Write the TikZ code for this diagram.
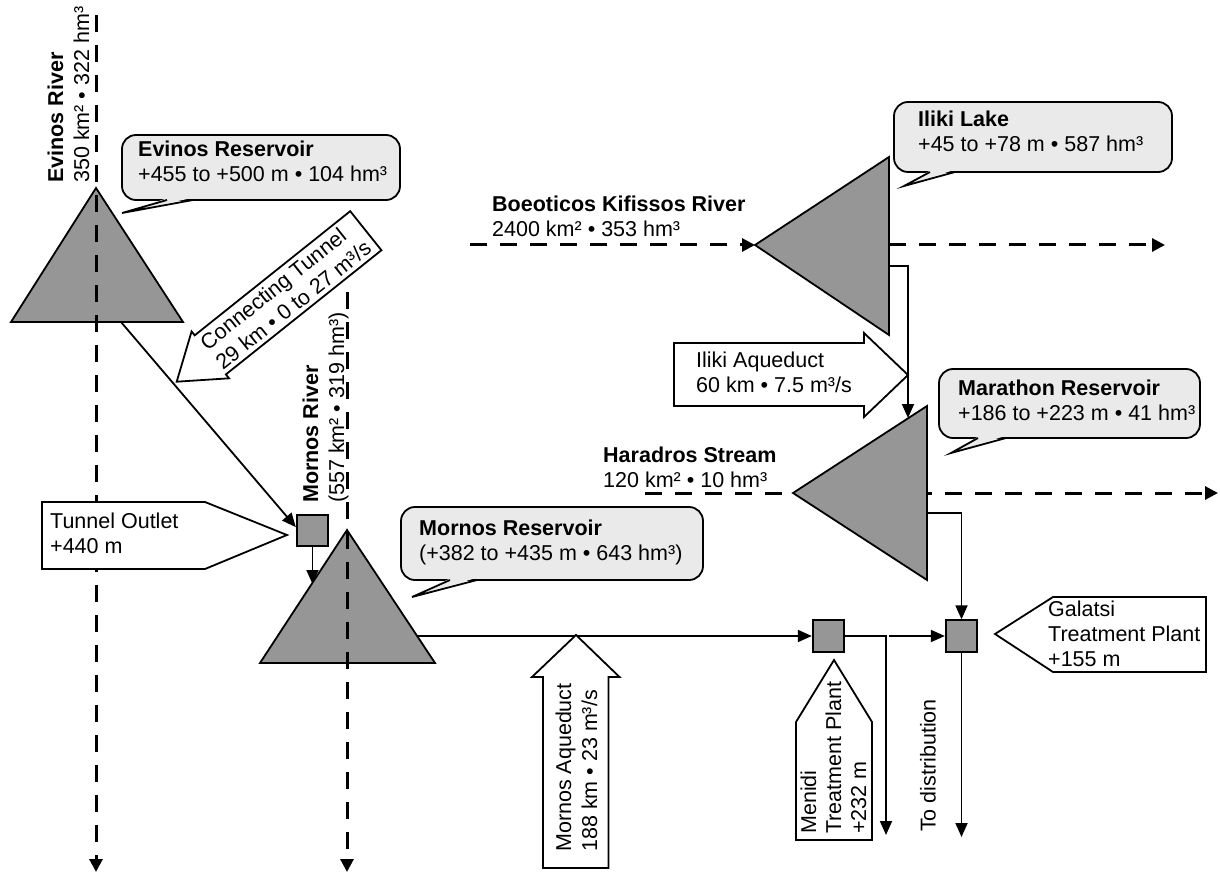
\documentclass[tikz,border=0pt]{standalone}
\usepackage{fontspec}
\setmainfont{Liberation Sans}
\usetikzlibrary{arrows.meta,calc}
\definecolor{resgray}{RGB}{150,150,150}
\definecolor{callgray}{RGB}{234,234,234}
\newcommand\fstrut{\rule{0pt}{15.8pt}}
\newcommand\speech[8]{%
  \draw[callbox] (#1,#2) rectangle (#3,#4);
  \fill[callgray] (#7+1,#4-2) -- (#5,#6) -- (#8-1,#4-2) -- cycle;
  \draw[line width=1.8pt, line join=miter] (#7,#4) -- (#5,#6) -- (#8,#4);
}
\begin{document}
\begin{tikzpicture}[x=1pt,y=-1pt,
  every node/.style={inner sep=0pt, font=\fontsize{21.5}{25}\selectfont},
  txt/.style={anchor=north west, align=left},
  rtxt/.style={anchor=north west, align=left, rotate=90, font=\fontsize{21.5}{26}\selectfont},
  reservoir/.style={fill=resgray, draw=black, line width=1.8pt, line join=miter},
  plant/.style={rectangle, fill=resgray, draw=black, line width=1.8pt, minimum size=31.5pt},
  flow/.style={draw=black, line width=1.8pt, -{Triangle[length=14pt,width=12pt]}},
  river/.style={draw=black, line width=3pt, dash pattern=on 17pt off 13pt, -{Triangle[length=13pt,width=13pt]}},
  callbox/.style={fill=callgray, draw=black, line width=1.8pt, rounded corners=14pt},
  blockarrow/.style={fill=white, draw=black, line width=1.8pt, line join=miter},
]
\useasboundingbox (0,0) rectangle (1220,874);

% river end points
\coordinate (evsrc) at (96,15);
\coordinate (evsink) at (96,872);
\coordinate (mosrc) at (347,292);
\coordinate (mosink) at (347,872);
\coordinate (bksrc) at (470,245);
\coordinate (iltip) at (755,245);
\coordinate (ilright) at (889,245);
\coordinate (bksink) at (1165,245);
\coordinate (hasrc) at (645,493);
\coordinate (hasink) at (1218,493);

% Haradros stream (passes under Marathon reservoir)
\draw[river] (hasrc) -- (hasink);

% reservoirs
\draw[reservoir] (96,188) -- (183,322) -- (11,322) -- cycle;
\draw[reservoir] (347,530) -- (435,663) -- (260,663) -- cycle;
\draw[reservoir] (889,157) -- (889,335) -- (755,245) -- cycle;
\draw[reservoir] (927,406) -- (927,580) -- (793,493) -- cycle;

% rivers
\draw[river] (evsrc) -- (evsink);
\draw[river] (mosrc) -- (mosink);
\draw[river] (bksrc) -- (iltip);
\draw[river] (ilright) -- (bksink);

% plants
\node[plant] (outlet) at (312.5,530.5) {};
\node[plant] (menidi) at (828.5,636) {};
\node[plant] (galatsi) at (961.5,636) {};

% flows
\coordinate (evout) at (121,322);
\draw[flow] (evout) -- ($(outlet.north west)!0.4!(outlet.south west)$);
\coordinate (mtin) at (312.5,584);
\draw[flow] (outlet) -- (mtin);
\coordinate (mtout) at (417,636);
\draw[flow] (mtout) -- (menidi);
\coordinate (mj) at (886,636);
\coordinate (mdist) at (886,835);
\draw[flow] (menidi) -- (mj) -- (mdist);
\coordinate (gj) at (889,636);
\draw[flow] (gj) -- (galatsi);
\coordinate (gdist) at (961.5,837);
\draw[flow] (galatsi) -- (gdist);
\coordinate (marout) at (927,513);
\coordinate (mbend) at (961.5,513);
\draw[flow] (marout) -- (mbend) -- (galatsi);
\coordinate (ilout) at (889,266);
\coordinate (ilbend) at (908,266);
\coordinate (marin) at (908,418);
\draw[flow] (ilout) -- (ilbend) -- (marin);

% block arrows
\begin{scope}[shift={(176.7,381.7)}, rotate=38.6]
  \draw[blockarrow] (0,0) -- (43,30) -- (43,25) -- (242,25) -- (242,-25) -- (43,-25) -- (43,-30) -- cycle;
  \node[anchor=west, align=left, rotate=38.6] (cttext) at (43,0) {\fstrut Connecting Tunnel\\29 km • 0 to 27 m³/s};
\end{scope}
\draw[blockarrow] (576,635) -- (619.5,677) -- (608.5,677) -- (608.5,868) -- (543,868) -- (543,677) -- (532,677) -- cycle;
\node[rtxt] (matext) at (555,852) {\fstrut Mornos Aqueduct\\188 km • 23 m³/s};
\draw[blockarrow] (908,375) -- (864,417) -- (864,406) -- (674,406) -- (674,343) -- (864,343) -- (864,333) -- cycle;
\node[txt] (iatext) at (696,351) {\fstrut Iliki Aqueduct\\60 km • 7.5 m³/s};

% pentagon labels
\draw[blockarrow] (42,502) -- (205,502) -- (287,535) -- (205,569) -- (42,569) -- cycle;
\node[txt] (totext) at (50,512) {\fstrut Tunnel Outlet\\+440 m};
\draw[blockarrow] (995,634) -- (1053,597) -- (1206,597) -- (1206,672) -- (1053,672) -- cycle;
\node[txt] (gatext) at (1048,600) {\fstrut Galatsi\\Treatment Plant\\+155 m};
\draw[blockarrow] (834,660) -- (872,722) -- (872,840) -- (796,840) -- (796,722) -- cycle;
\node[rtxt, font=\fontsize{21.5}{25}\selectfont] (metext) at (800,834) {\fstrut Menidi\\Treatment Plant\\+232 m};

% speech callouts
\speech{122}{135}{400}{200}{122}{213}{167}{193}
\node[txt] (evres) at (138,141) {\fstrut\textbf{Evinos Reservoir}\\+455 to +500 m • 104 hm³};
\speech{401}{507}{703}{580}{412}{597}{450}{477}
\node[txt] (mores) at (419,519) {\fstrut\textbf{Mornos Reservoir}\\(+382 to +435 m • 643 hm³)};
\speech{894}{102}{1172}{172}{904}{186}{930}{955}
\node[txt] (illake) at (918,111) {\fstrut\textbf{Iliki Lake}\\+45 to +78 m • 587 hm³};
\speech{939}{369}{1200}{438}{951}{453}{978}{1006}
\node[txt] (mares) at (958,379) {\fstrut\textbf{Marathon Reservoir}\\+186 to +223 m • 41 hm³};

% river labels
\node[rtxt] (evlabel) at (47,183) {\fstrut\textbf{Evinos River}\\350 km² • 322 hm³};
\node[rtxt] (molabel) at (302,503) {\fstrut\textbf{Mornos River}\\(557 km² • 319 hm³)};
\node[txt] (bklabel) at (492,196) {\fstrut\textbf{Boeoticos Kifissos River}\\2400 km² • 353 hm³};
\node[txt] (halabel) at (603,446) {\fstrut\textbf{Haradros Stream}\\120 km² • 10 hm³};
\node[rtxt] (distlabel) at (919.5,832) {\fstrut To distribution};
\end{tikzpicture}
\end{document}
